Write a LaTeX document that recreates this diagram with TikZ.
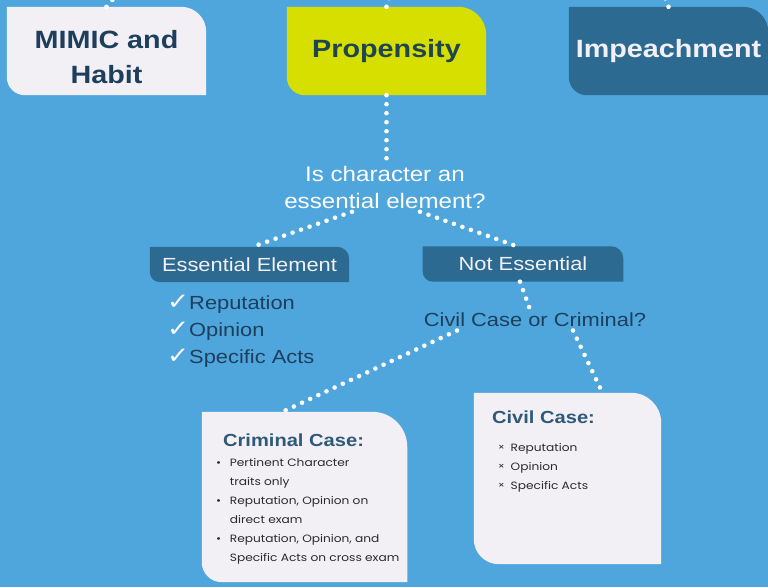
\documentclass[tikz,border=0pt]{standalone}
\usepackage{fontspec}
\setmainfont{Liberation Sans}
\newfontfamily\listfont{Poppins}
\newfontfamily\symfont{DejaVu Sans}
\usepackage{tikz}
\usetikzlibrary{backgrounds}
\definecolor{sky}{HTML}{4FA6DD}
\definecolor{lime}{HTML}{D7DF00}
\definecolor{steel}{HTML}{2C6A91}
\definecolor{paper}{HTML}{F2F0F5}
\definecolor{navy}{HTML}{1E3F5C}
\definecolor{teal}{HTML}{1F4650}
\definecolor{headblue}{HTML}{2E5979}
\definecolor{ink}{HTML}{2A2A2C}
\tikzset{
  stretch/.style={xscale=1.15},
  boxnode/.style={stretch,align=center,inner sep=0pt},
  tabnode/.style={boxnode,minimum height=35pt,text=paper,font=\fontsize{19}{23}\selectfont},
  topnode/.style={boxnode,minimum width=173pt,minimum height=88pt,font=\bfseries\fontsize{25}{35}\selectfont},
  dots/.style={white,line width=4.6pt,line cap=round,dash pattern=on 0pt off 9pt}
}
% leaf shape: round top right and bottom left corners
\newcommand{\leaf}[4]{\fill[#2] (#1.north west) -- ([xshift=-#3]#1.north east)
  arc[start angle=90,end angle=0,radius=#3] -- (#1.south east) -- ([xshift=#4]#1.south west)
  arc[start angle=270,end angle=180,radius=#4] -- cycle;}
\newcommand{\crimitem}{\makebox[12pt][l]{•}}
\newcommand{\civitem}{\makebox[11pt][l]{\raisebox{1pt}{\fontsize{9}{9}\selectfont ×}}}
\newcommand{\tick}{{\color{white}\symfont\fontsize{23}{23}\selectfont ✓}}

\begin{document}
\begin{tikzpicture}[x=1pt,y=1pt]
  \useasboundingbox (0,0) rectangle (768,587);
  %%%% top row
  \node[topnode,text=navy] (mimic) at (106.5,536) {\rule{0pt}{31pt}MIMIC and\\Habit};
  \node[topnode,text=teal] (prop) at (386.5,536) {Propensity};
  \node[topnode,text=paper] (impeach) at (668.5,536) {Impeachment};
  \coordinate (mimicup) at (114,589);
  \coordinate (propup) at (389,589);
  \coordinate (impup) at (665,589);
  %%%% question
  \node[stretch,align=center,text=white,font=\fontsize{21}{27}\selectfont] (question) at (385,400)
    {Is character an\\essential element?};
  \node[tabnode,minimum width=173pt] (essential) at (249.5,322.5) {Essential Element};
  \node[tabnode,minimum width=174pt] (notess) at (523,323) {Not Essential};
  \node[stretch,anchor=west,align=left,text=navy,font=\fontsize{19}{27}\selectfont] (checks) at (163,256)
    {\tick Reputation\\\tick Opinion\\\tick Specific Acts};
  \node[stretch,text=navy,font=\fontsize{19}{23}\selectfont] (civcrim) at (535,267) {Civil Case or Criminal?};
  %%%% case boxes
  \node[boxnode,minimum width=178.3pt,minimum height=170pt] (crim) at (304.5,90) {};
  \node[boxnode,minimum width=162.6pt,minimum height=171pt] (civil) at (567.5,108.5) {};
  \node[stretch,anchor=west,text=headblue,font=\bfseries\fontsize{17.5}{21}\selectfont] (crimhead) at (219,147) {Criminal Case:};
  \node[stretch,anchor=west,align=left,text=ink,font=\listfont\fontsize{10.6}{19}\selectfont] (crimlist) at (212,76)
    {\crimitem Pertinent Character\\\hspace*{12pt}traits only\\\crimitem Reputation, Opinion on\\
     \hspace*{12pt}direct exam\\\crimitem Reputation, Opinion, and\\\hspace*{12pt}Specific Acts on cross exam};
  \node[stretch,anchor=west,text=headblue,font=\bfseries\fontsize{17.5}{21}\selectfont] (civhead) at (488,170) {Civil Case:};
  \node[stretch,anchor=west,align=left,text=ink,font=\listfont\fontsize{10.6}{19}\selectfont] (civlist) at (494,119)
    {\civitem Reputation\\\civitem Opinion\\\civitem Specific Acts};
  %%%% dotted links
  \draw[dots] (mimic.north) -- (mimicup);
  \draw[dots] (prop.north) -- (propup);
  \draw[dots] (impeach.north) -- (impup);
  \draw[dots] (prop.south) -- (prop.south |- question.north);
  \draw[dots] ([xshift=-33pt]question.south) -- ([xshift=3pt]essential.north);
  \draw[dots] ([xshift=35pt]question.south) -- ([xshift=-6pt]notess.north);
  \draw[dots] ([xshift=-3pt]notess.south) -- ([xshift=-5pt]civcrim.north);
  \draw[dots] ([xshift=38pt]civcrim.south) -- ([xshift=35pt]civil.north);
  \draw[dots] ([xshift=-78pt]civcrim.south) -- ([xshift=-22pt]crim.north);
  %%%% fills behind everything
  \begin{scope}[on background layer]
    \fill[sky] (0,0) rectangle (768,587);
    \leaf{mimic}{paper}{25pt}{18pt}
    \leaf{prop}{lime}{28pt}{18pt}
    \leaf{impeach}{steel}{25pt}{18pt}
    \leaf{essential}{steel}{12pt}{10pt}
    \leaf{notess}{steel}{12pt}{10pt}
    \leaf{crim}{paper}{35pt}{20pt}
    \leaf{civil}{paper}{30pt}{25pt}
  \end{scope}
\end{tikzpicture}
\end{document}
